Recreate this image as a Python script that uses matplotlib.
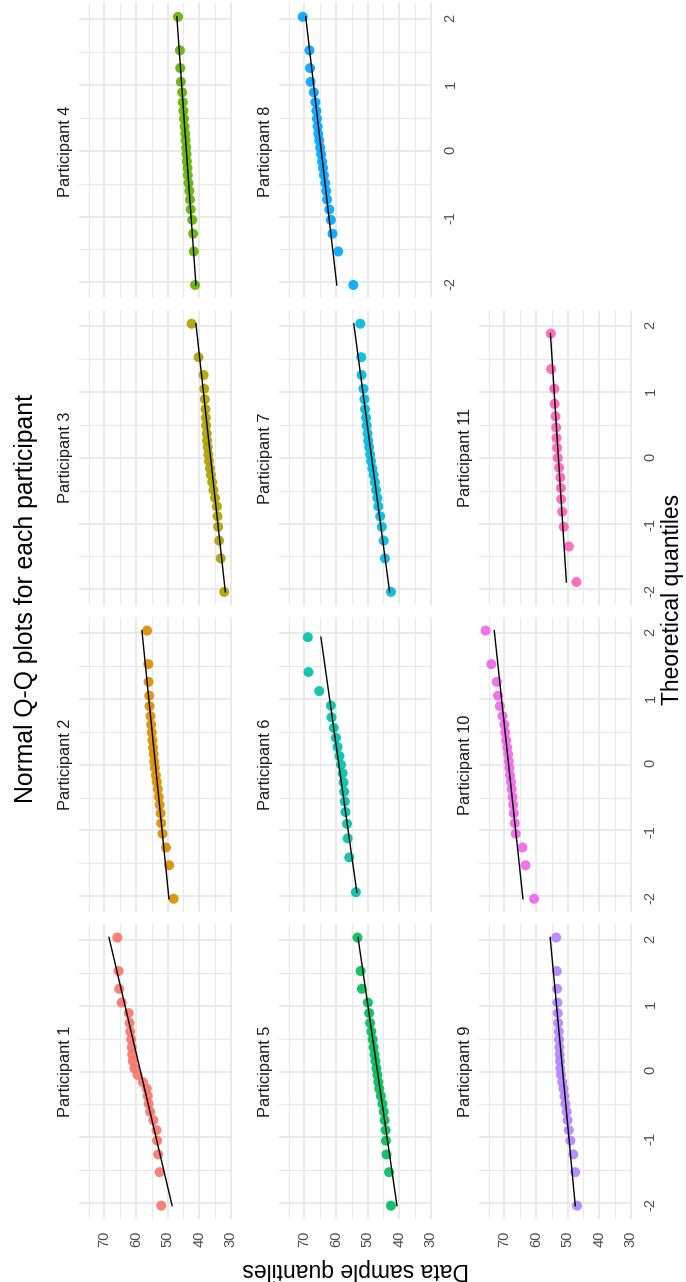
import matplotlib
matplotlib.use("Agg")
import numpy as np
import matplotlib.pyplot as plt
from matplotlib.ticker import MultipleLocator

plt.rcParams['font.family'] = ['Liberation Sans', 'DejaVu Sans']
plt.rcParams['axes.unicode_minus'] = False

# sorted sample values per participant
p1 = [52.0, 52.5, 53.0, 53.3, 53.5, 54.5, 55.5, 56.0, 56.3, 56.6, 57.8, 59.5,
      60.5, 61.0, 61.2, 61.3, 61.5, 61.8, 62.0, 62.3, 64.5, 65.3, 65.5, 65.9]
p2 = [48.1, 49.5, 50.5, 51.6, 52.0, 52.2, 52.5, 52.8, 53.1, 53.4, 53.7, 54.0,
      54.2, 54.4, 54.6, 54.8, 55.0, 55.2, 55.4, 55.7, 55.8, 56.0, 56.1, 56.5]
p3 = [32.1, 33.2, 33.7, 34.0, 34.2, 34.4, 35.0, 35.5, 35.9, 36.3, 36.6, 36.9,
      37.1, 37.3, 37.5, 37.6, 37.8, 37.9, 38.0, 38.2, 38.4, 38.6, 40.2, 42.4]
p4 = [41.3, 41.7, 41.9, 42.2, 42.7, 42.9, 43.1, 43.4, 43.6, 43.7, 43.9, 44.0,
      44.1, 44.3, 44.4, 44.6, 44.8, 45.0, 45.2, 45.4, 45.8, 46.0, 46.1, 46.7]
p5 = [42.6, 43.2, 44.0, 44.2, 44.3, 44.6, 44.9, 45.3, 45.8, 46.3, 46.6, 46.9,
      47.2, 47.5, 47.8, 48.1, 48.4, 48.8, 49.2, 49.5, 49.9, 51.8, 52.2, 53.2]
p6 = [53.7, 55.8, 56.3, 56.5, 57.0, 57.2, 57.4, 57.6, 57.9, 58.4, 58.9, 59.5,
      60.0, 60.7, 61.4, 61.6, 65.3, 68.7, 68.9]
p7 = [42.6, 44.5, 44.9, 45.5, 46.0, 46.6, 46.9, 47.3, 47.7, 48.1, 48.5, 48.9,
      49.2, 49.5, 49.8, 50.0, 50.3, 50.5, 50.8, 51.0, 51.3, 51.9, 52.0, 52.3]
p8 = [54.5, 59.3, 61.1, 61.6, 62.1, 62.8, 63.1, 63.4, 63.8, 64.1, 64.4, 64.7,
      65.0, 65.3, 65.6, 65.8, 66.0, 66.2, 66.5, 67.0, 68.0, 68.2, 68.4, 70.5]
p9 = [47.0, 47.6, 48.2, 49.1, 49.6, 50.0, 50.3, 50.7, 51.0, 51.3, 51.7, 52.1,
      52.3, 52.4, 52.5, 52.6, 52.7, 52.8, 53.0, 53.1, 53.2, 53.3, 53.4, 53.6]
p10 = [60.6, 63.3, 64.3, 66.4, 66.7, 67.0, 67.2, 67.4, 67.7, 67.9, 68.2, 68.4,
       68.6, 68.8, 69.1, 69.4, 69.7, 70.0, 70.6, 71.4, 72.0, 72.4, 74.1, 75.9]
p11 = [47.2, 49.6, 51.2, 51.7, 52.0, 52.1, 52.3, 52.7, 53.1, 53.3, 53.5, 53.6,
       53.8, 54.1, 54.2, 55.2, 55.3]

# theoretical normal quantiles as they sit on the chart
theo_24 = [-2.04, -1.53, -1.26, -1.05, -0.89, -0.74, -0.61, -0.49, -0.37, -0.26, -0.16, -0.05,
           0.05, 0.16, 0.26, 0.37, 0.49, 0.61, 0.74, 0.89, 1.05, 1.26, 1.53, 2.04]
theo_19 = [-1.94, -1.41, -1.12, -0.90, -0.72, -0.56, -0.41, -0.27, -0.13, 0.0,
           0.13, 0.27, 0.41, 0.56, 0.72, 0.90, 1.12, 1.41, 1.94]
theo_17 = [-1.89, -1.35, -1.05, -0.82, -0.63, -0.46, -0.30, -0.15, 0.0,
           0.15, 0.30, 0.46, 0.63, 0.82, 1.05, 1.35, 1.89]

labels = [f"Participant {i}" for i in range(1, 12)]
samples = [p1, p2, p3, p4, p5, p6, p7, p8, p9, p10, p11]
theos = [theo_24, theo_24, theo_24, theo_24, theo_24, theo_19,
         theo_24, theo_24, theo_24, theo_24, theo_17]
colors = ['#F8766D', '#DB8E00', '#AEA200', '#64B200', '#00BD5C', '#00C1A7',
          '#00BADE', '#00A6FF', '#B385FF', '#EF67EB', '#FF63B6']

Z75 = 0.6745  # normal quartile used by the qq line

W, H = 686, 1282
fig = plt.figure(figsize=(W / 100, H / 100), dpi=100)

col_left = [78.7, 278.7, 478.7]
row_top = [3.4, 310.3, 617.2, 924.1]
pw, ph = 153.6, 295.0

first = None
for i in range(11):
    # the chart is a 3x4 facet grid turned a quarter turn
    col = i // 4
    row = 3 - i % 4
    rect = [col_left[col] / W, 1 - (row_top[row] + ph) / H, pw / W, ph / H]
    ax = fig.add_axes(rect, sharex=first, sharey=first)
    if first is None:
        first = ax

    s = np.array(samples[i])
    t = np.array(theos[i])
    ax.scatter(s, t, s=52, color=colors[i], edgecolors='none', alpha=0.92, zorder=2)

    q1, q3 = np.percentile(s, [25, 75])
    slope = (q3 - q1) / (2 * Z75)
    inter = q1 + slope * Z75
    tt = np.array([t.min(), t.max()])
    ax.plot(inter + slope * tt, tt, color='black', lw=1.0, zorder=3)

    ax.xaxis.set_major_locator(MultipleLocator(10))
    ax.xaxis.set_minor_locator(MultipleLocator(5))
    ax.yaxis.set_major_locator(MultipleLocator(1))
    ax.yaxis.set_minor_locator(MultipleLocator(0.5))
    ax.grid(which='major', color='#E6E6E6', lw=1.2)
    ax.grid(which='minor', color='#E9E9E9', lw=0.9)
    ax.set_axisbelow(True)
    for sp in ax.spines.values():
        sp.set_visible(False)

    show_x = row == 3
    show_y = col == 2 or (col == 1 and row == 0)
    ax.tick_params(axis='both', which='both', length=0, colors='#4D4D4D', labelsize=10.5)
    ax.tick_params(axis='x', pad=8, labelrotation=90, labelbottom=show_x)
    ax.tick_params(axis='y', pad=8, labelrotation=90, left=False, labelleft=False,
                   right=True, labelright=show_y)

    ax.text(-0.083, 0.5, labels[i], transform=ax.transAxes, rotation=90,
            ha='center', va='center', fontsize=11.8, color='#1A1A1A')

first.invert_xaxis()

fig.text(26 / W, 1 - 598 / H, "Normal Q-Q plots for each participant",
         rotation=90, ha='center', va='center', fontsize=17.8)
fig.text(673 / W, 1 - 599 / H, "Theoretical quantiles",
         rotation=90, ha='center', va='center', fontsize=16.5)
fig.text(356 / W, 1 - 1270 / H, "Data sample quantiles",
         rotation=180, ha='center', va='center', fontsize=16.5)

fig.savefig("out.png", dpi=100)
